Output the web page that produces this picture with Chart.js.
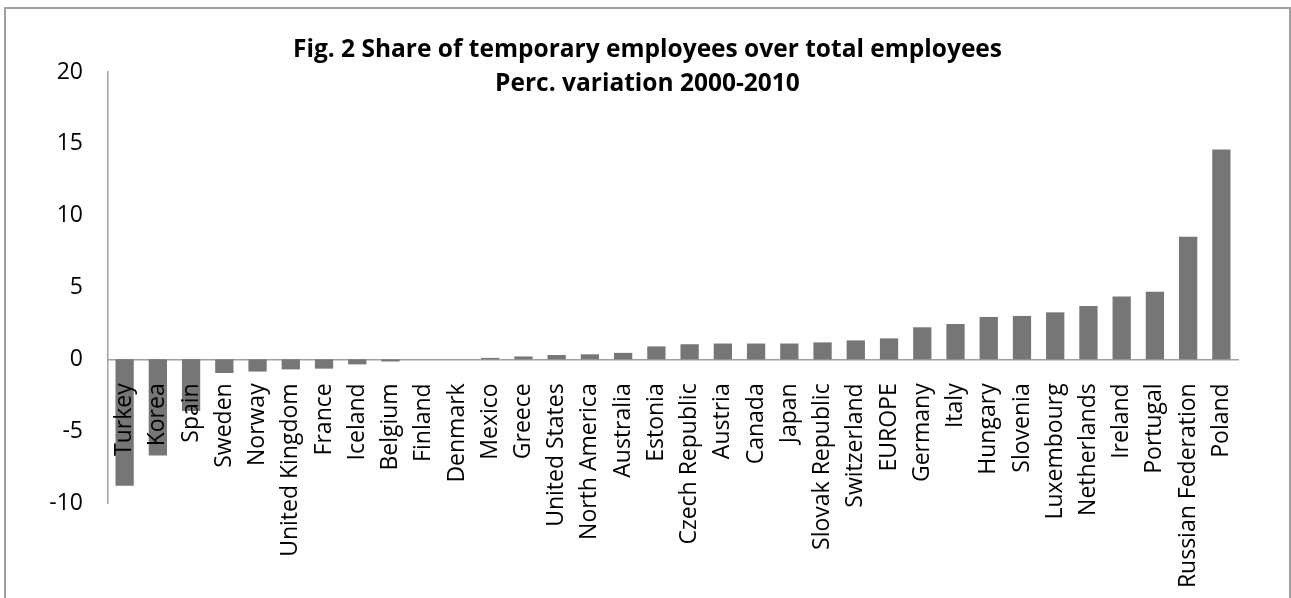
<!DOCTYPE html>
<html lang="en">
<head>
  <meta charset="UTF-8">
  <title>Fig. 2 Share of temporary employees</title>
  <script src="https://cdn.jsdelivr.net/npm/chart.js"></script>
  <style>
    html, body { margin: 0; padding: 0; background: #fff; overflow: hidden; }
    #frame {
      position: absolute; left: 4px; top: 7px; width: 1283px; height: 700px;
      border: 2px solid #a0a0a0;
    }
    #wrap { position: absolute; left: 0; top: 0; width: 1291px; height: 598px; }
    #title {
      position: absolute; left: 0; top: 31px; width: 1291px; text-align: center;
      font-family: "Open Sans", sans-serif; font-weight: bold; font-size: 24.5px;
      line-height: 34px; color: #000; padding-left: 4px; box-sizing: border-box;
    }
  </style>
</head>
<body>
  <div id="frame"></div>
  <div id="wrap"><canvas id="chart"></canvas></div>
  <div id="title">Fig. 2 Share of temporary employees over total employees<br>Perc. variation 2000-2010</div>

  <script>
    // categories, left to right
    const countries = [
      'Turkey', 'Korea', 'Spain', 'Sweden', 'Norway', 'United Kingdom', 'France',
      'Iceland', 'Belgium', 'Finland', 'Denmark', 'Mexico', 'Greece', 'United States',
      'North America', 'Australia', 'Estonia', 'Czech Republic', 'Austria', 'Canada',
      'Japan', 'Slovak Republic', 'Switzerland', 'EUROPE', 'Germany', 'Italy', 'Hungary',
      'Slovenia', 'Luxembourg', 'Netherlands', 'Ireland', 'Portugal', 'Russian Federation', 'Poland'
    ];
    // variation 2000-2010
    const variation = [
      -8.8, -6.7, -3.6, -0.95, -0.85, -0.7, -0.65,
      -0.35, -0.15, 0, 0, 0.1, 0.2, 0.3,
      0.35, 0.45, 0.9, 1.05, 1.1, 1.1,
      1.1, 1.18, 1.32, 1.46, 2.23, 2.46, 2.95,
      3.02, 3.27, 3.71, 4.38, 4.71, 8.54, 14.61
    ];
    const yTicks = [-10, -5, 0, 5, 10, 15, 20];

    const font = { family: '"Open Sans", sans-serif', size: 23 };

    new Chart(document.getElementById('chart'), {
      type: 'bar',
      data: {
        labels: countries,
        datasets: [{
          data: variation,
          backgroundColor: '#767676',
          categoryPercentage: 1,
          barPercentage: 0.55
        }]
      },
      options: {
        responsive: true,
        maintainAspectRatio: false,
        animation: false,
        layout: { padding: { top: 72, right: 53, bottom: 95, left: 0 } },
        plugins: { legend: { display: false }, tooltip: { enabled: false } },
        scales: {
          x: {
            position: { y: 0 },
            grid: { display: false, drawTicks: false },
            border: { color: '#a0a0a0', width: 1.5 },
            // labels sit on top of the bars, as in the original
            ticks: { z: 1, minRotation: 90, maxRotation: 90, autoSkip: false, padding: 24, color: '#000', font: font }
          },
          y: {
            min: -10, max: 20,
            afterBuildTicks: s => { s.ticks = yTicks.map(v => ({ value: v })); },
            grid: { display: false, drawTicks: false },
            border: { color: '#a0a0a0', width: 1.5 },
            ticks: { padding: 25, color: '#000', font: font },
            afterFit: s => { s.width = 108; }
          }
        }
      }
    });
  </script>
</body>
</html>
